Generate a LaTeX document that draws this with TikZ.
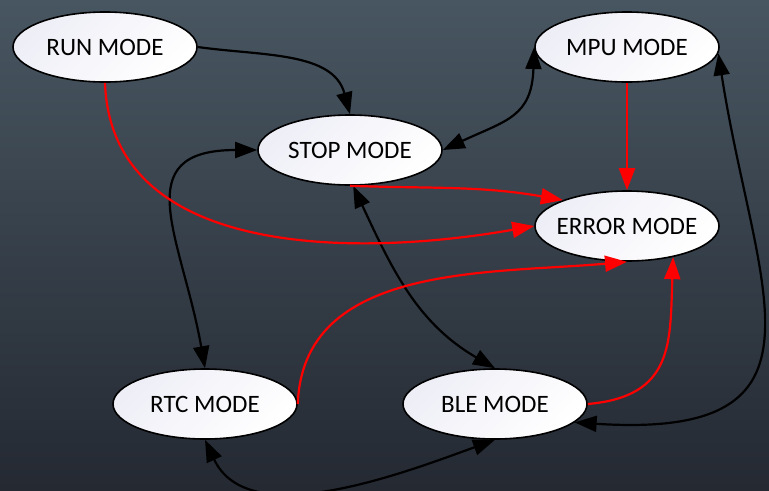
\documentclass[tikz,border=0pt]{standalone}
\usepackage{fontspec}
\setmainfont{Carlito}
\usetikzlibrary{arrows.meta,shapes.geometric}

\definecolor{bgtop}{RGB}{72,86,97}
\definecolor{bgbot}{RGB}{36,41,50}
\definecolor{modefill}{RGB}{238,238,247}

\tikzset{
  mode/.style={ellipse, draw=black, line width=0.4mm,
    minimum width=46mm, minimum height=17.5mm,
    inner xsep=-3mm, inner ysep=0pt,
    top color=modefill, bottom color=white, shading angle=45,
    font=\fontsize{17.8}{21}\selectfont},
  go/.style={line width=0.55mm, black, ->},
  fail/.style={go, red},
}

\begin{document}
\begin{tikzpicture}[x=0.25mm, y=-0.25mm, >={Triangle[length=5.5mm,width=4mm]}]
  % backdrop
  \useasboundingbox (0,0) rectangle (769,490);
  \shade[top color=bgtop, bottom color=bgbot] (0,0) rectangle (769,490);

  % modes
  \node[mode] (run)   at (105,47)  {RUN MODE};
  \node[mode] (mpu)   at (627,47)  {MPU MODE};
  \node[mode] (stop)  at (350,150) {STOP MODE};
  \node[mode] (error) at (627,226) {ERROR MODE};
  \node[mode] (rtc)   at (205,404) {RTC MODE};
  \node[mode] (ble)   at (495,404) {BLE MODE};

  % normal transitions
  \draw[go] (run.east) to[out=-8,in=105] (stop.north);
  \draw[go,<->] (mpu.west) to[out=-92,in=25,looseness=1.3] (stop.east);
  \draw[go,<->] (stop.west) to[out=180,in=100,looseness=1.5] (rtc.north);
  \draw[go,<->] (stop.-85) to[out=-65,in=150] (ble.north);
  \draw[go,<->] (rtc.south) to[out=-65,in=-160,looseness=0.9] (ble.south);
  \draw[go,<->] (mpu.-4) .. controls (755,290) and (845,440) .. (ble.-13);

  % faults go to ERROR MODE
  \draw[fail] (mpu.south) -- (error.north);
  \draw[fail] (stop.south) to[out=-2,in=170] (error.158);
  \draw[fail] (run.south) to[out=-88,in=190] (error.west);
  \draw[fail] (rtc.east) to[out=88,in=185] (error.south);
  \draw[fail] (ble.east) to[out=5,in=-92,looseness=1.3] (error.-34);
\end{tikzpicture}
\end{document}
